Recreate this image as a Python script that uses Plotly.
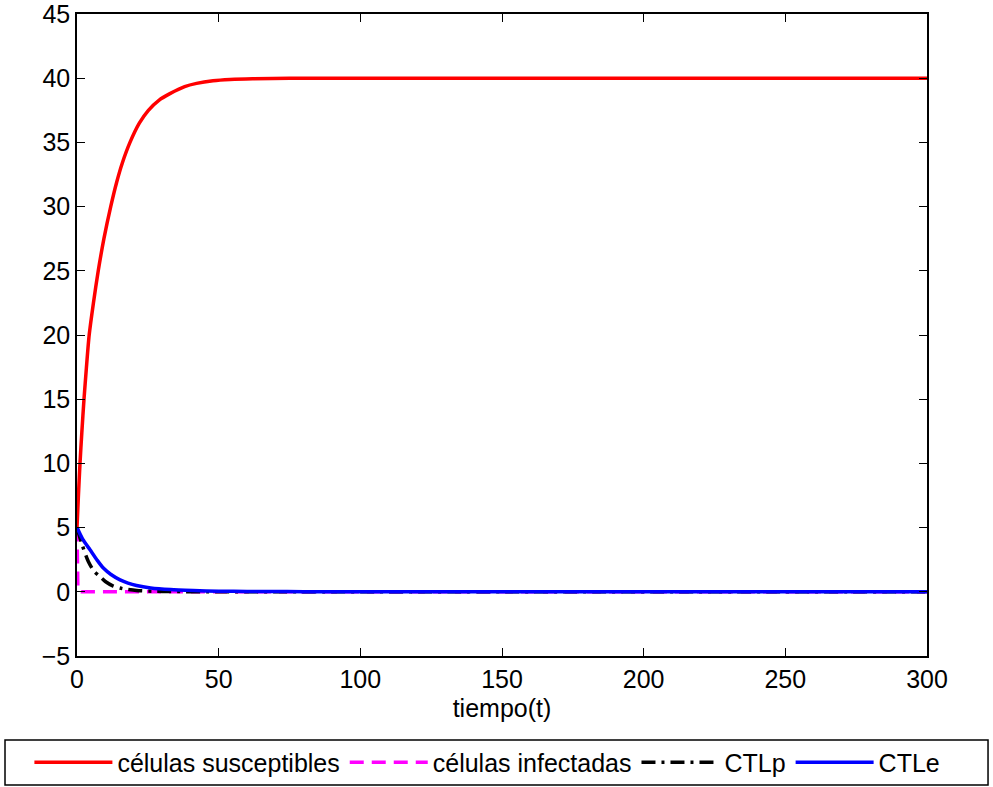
import plotly.graph_objects as go

# Susceptible cells
t_sus = [0, 0.5, 1.06, 1.7, 2.47, 3.3, 4.3, 5.8, 7.5, 9.5, 11.9, 14, 16, 18.7, 22,
         25.2, 29, 32.8, 38, 42.2, 48, 54, 62, 75, 100, 150, 200, 250, 300]
sus = [5, 7.5, 10, 12.4, 15, 17.4, 20, 22.5, 25, 27.5, 30, 31.9, 33.4, 35, 36.5,
       37.5, 38.3, 38.8, 39.35, 39.6, 39.8, 39.9, 39.96, 39.99, 40, 40, 40, 40, 40]

# Infected cells
t_inf = [0, 0.15, 0.3, 0.6, 1.5, 300]
inf = [5, 1.5, 0.3, 0.05, 0, 0]

# Precursor CTL
t_ctlp = [0, 1.6, 4, 6, 8.1, 10, 12.8, 16, 21, 27, 33, 40, 300]
ctlp = [5, 3.8, 2.36, 1.6, 1.19, 0.8, 0.45, 0.25, 0.1, 0.04, 0.02, 0.01, 0]

# Effector CTL
t_ctle = [0, 2, 4.6, 7, 9.3, 12, 15.2, 18, 21, 26, 33, 41, 50, 60, 80, 300]
ctle = [5, 4.1, 3.27, 2.5, 1.85, 1.35, 0.93, 0.68, 0.49, 0.3, 0.17, 0.1, 0.05,
        0.03, 0.01, 0]

x_ticks = [0, 50, 100, 150, 200, 250, 300]
y_ticks = [-5, 0, 5, 10, 15, 20, 25, 30, 35, 40, 45]

FONT = "Liberation Sans, Arial, Helvetica, sans-serif"

fig = go.Figure()
fig.add_trace(go.Scatter(x=t_sus, y=sus, mode="lines", name="células susceptibles",
                         line=dict(color="#ff0000", width=3.5, shape="spline", smoothing=0.7)))
fig.add_trace(go.Scatter(x=t_inf, y=inf, mode="lines", name="células infectadas",
                         line=dict(color="#ff00ff", width=3.5, dash="14px,8px")))
fig.add_trace(go.Scatter(x=t_ctlp, y=ctlp, mode="lines", name="CTLp",
                         line=dict(color="#000000", width=3.5, dash="14px,6px,3px,6px",
                                   shape="spline", smoothing=0.7)))
fig.add_trace(go.Scatter(x=t_ctle, y=ctle, mode="lines", name="CTLe",
                         line=dict(color="#0000ff", width=3.5, shape="spline", smoothing=0.7)))

axis_common = dict(
    showgrid=False, zeroline=False, showline=True, linecolor="black", linewidth=1.5,
    mirror="ticks", ticks="inside", ticklen=8, tickwidth=1, tickcolor="black",
    tickfont=dict(family=FONT, size=25, color="black"), automargin=False,
    ticklabeloverflow="allow",
)

fig.update_xaxes(range=[0, 300], tickvals=x_ticks,
                 title=dict(text="tiempo(t)", font=dict(family=FONT, size=25, color="black"),
                            standoff=8),
                 **axis_common)
fig.update_yaxes(range=[-5, 45], tickvals=y_ticks, **axis_common)

# Frame around the legend row, spanning the figure width
fig.add_shape(type="rect", xref="paper", yref="paper",
              x0=-0.0847, x1=1.0718, y0=-0.2009, y1=-0.1308,
              line=dict(color="black", width=1.5), fillcolor="white", layer="below")

fig.update_layout(
    width=993, height=787,
    margin=dict(l=77, r=66, t=14, b=131, autoexpand=False),
    paper_bgcolor="white", plot_bgcolor="white",
    font=dict(family=FONT, color="black"),
    legend=dict(orientation="h", x=-0.056, xanchor="left", y=-0.1659, yanchor="middle",
                font=dict(family=FONT, size=25, color="black"),
                borderwidth=0, bgcolor="rgba(0,0,0,0)",
                traceorder="normal", itemwidth=78),
)

fig.write_html("out.html")
